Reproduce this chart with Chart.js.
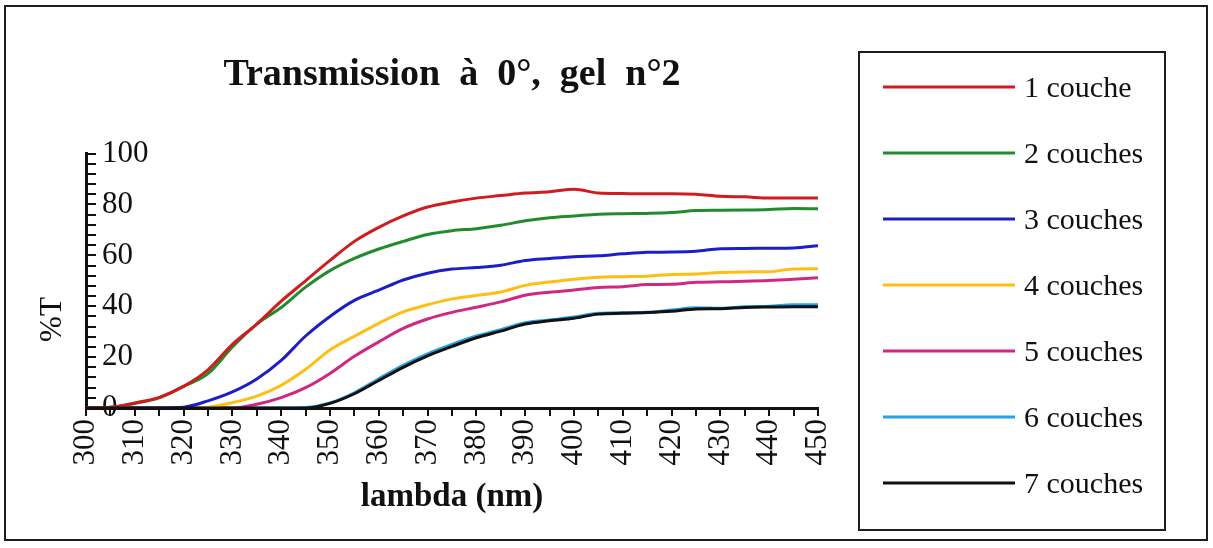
<!DOCTYPE html>
<html>
<head>
<meta charset="utf-8">
<script src="https://cdn.jsdelivr.net/npm/chart.js@4.4.1/dist/chart.umd.min.js"></script>
<style>
  html, body { margin: 0; padding: 0; background: #fff; }
  #wrap { position: relative; width: 1213px; height: 548px; }
</style>
</head>
<body>
<div id="wrap"><canvas id="transChart" width="1213" height="548"></canvas></div>
<script>
// wavelengths (nm) and %T for each number of layers
var lambdas = [300,305,310,315,320,325,330,335,340,345,350,355,360,365,370,375,380,385,390,395,400,405,410,415,420,425,430,435,440,445,450];
var couche1 = [0,0.3,2,4.2,8.5,15,25,33,42,50,58,65.5,71,75.5,79,81,82.5,83.5,84.5,85,86,84.5,84.3,84.2,84.2,84,83.2,83,82.5,82.5,82.5];
var couche2 = [0,0.3,1.8,4,8.5,13.5,24,33,39.5,47.5,54,58.8,62.5,65.5,68.2,69.7,70.5,71.8,73.6,74.8,75.5,76.2,76.4,76.5,76.8,77.6,77.7,77.8,78,78.4,78.3];
var couche3 = [0,0,0,0,0.3,2.8,6.3,11.4,18.7,28.3,36,42.3,46.3,50.3,53,54.6,55.2,56.1,58,58.8,59.5,59.8,60.6,61.2,61.3,61.6,62.6,62.7,62.8,62.9,63.8];
var couche4 = [0,0,0,0,0,0.3,2.1,4.7,8.9,15.2,22.8,28.2,33.3,37.8,40.6,42.9,44.2,45.6,48.2,49.5,50.6,51.4,51.6,51.8,52.5,52.7,53.3,53.5,53.6,54.6,54.7];
var couche5 = [0,0,0,0,0,0,0,1.5,4.1,8,13.6,20.3,26,31.3,35,37.6,39.6,41.7,44.3,45.5,46.4,47.4,47.7,48.5,48.6,49.4,49.6,49.8,50.1,50.6,51.2];
var couche6 = [0,0,0,0,0,0,0,0,0,0.2,2,6,11.5,16.8,21.3,25,28.3,30.8,33.5,34.6,35.8,37.2,37.5,37.6,38.5,39.4,39.2,39.8,40,40.6,40.6];
var couche7 = [0,0,0,0,0,0,0,0,0,0,1.8,5.6,10.8,16,20.5,24.2,27.6,30.2,33,34.3,35.3,36.9,37.2,37.5,38,38.9,39,39.5,39.7,39.8,39.8];

var labels = ["1 couche", "2 couches", "3 couches", "4 couches", "5 couches", "6 couches", "7 couches"];
var series = [couche1, couche2, couche3, couche4, couche5, couche6, couche7];
var colors = ['rgb(208,28,30)', 'rgb(34,140,44)', 'rgb(30,30,200)', 'rgb(255,190,20)',
              'rgb(208,40,130)', 'rgb(40,160,230)', 'rgb(17,17,17)'];
var yTickValues = [0,4,8,12,16,20,24,28,32,36,40,44,48,52,56,60,64,68,72,76,80,84,88,92,96,100];

function toPoints(vals) {
  return vals.map(function (v, i) { return {x: lambdas[i], y: v}; });
}

Chart.defaults.font.family = "'Liberation Serif', 'Times New Roman', serif";
Chart.defaults.color = '#111';

// outer frame + boxed legend on the right
var framePlugin = {
  id: 'frame',
  afterDraw: function (chart) {
    var ctx = chart.ctx;
    ctx.save();
    ctx.strokeStyle = '#1a1f1f';
    ctx.lineWidth = 2;
    ctx.strokeRect(5, 6, 1202, 534);
    ctx.strokeRect(859, 52, 306, 478);
    ctx.font = "30px 'Liberation Serif', serif";
    ctx.textBaseline = 'middle';
    ctx.textAlign = 'left';
    chart.data.datasets.forEach(function (ds, i) {
      var y = 87 + i * 66;
      ctx.strokeStyle = ds.borderColor;
      ctx.lineWidth = 3;
      ctx.beginPath();
      ctx.moveTo(883, y);
      ctx.lineTo(1015, y);
      ctx.stroke();
      ctx.fillStyle = '#111';
      ctx.fillText(ds.label, 1024, y + 2);
    });
    ctx.restore();
  }
};

// minor ticks of the y axis point into the plot
var yTicksPlugin = {
  id: 'yTicksIn',
  afterDatasetsDraw: function (chart) {
    var sc = chart.scales.y;
    var ctx = chart.ctx;
    ctx.save();
    ctx.strokeStyle = '#111';
    ctx.lineWidth = 2;
    sc.ticks.forEach(function (t) {
      var y = Math.round(sc.getPixelForValue(t.value));
      ctx.beginPath();
      ctx.moveTo(sc.right, y);
      ctx.lineTo(sc.right + 10, y);
      ctx.stroke();
    });
    ctx.restore();
  }
};

var ctx = document.getElementById('transChart').getContext('2d');
var chart = new Chart(ctx, {
  type: 'line',
  data: {
    datasets: series.map(function (s, i) {
      return {
        label: labels[i],
        data: toPoints(s),
        borderColor: colors[i],
        backgroundColor: colors[i],
        borderWidth: 3,
        pointRadius: 0,
        cubicInterpolationMode: 'monotone',
        order: i === 6 ? -1 : 0
      };
    })
  },
  options: {
    responsive: false,
    animation: false,
    layout: { padding: { left: 8, top: 6, right: 395, bottom: 6 } },
    plugins: {
      legend: { display: false },
      tooltip: { enabled: false },
      title: {
        display: true,
        fullSize: false,
        text: 'Transmission\u00a0\u00a0à\u00a0\u00a00°,\u00a0\u00a0gel\u00a0\u00a0n°2',
        color: '#111',
        font: { size: 38, weight: 'bold' },
        padding: { top: 46, bottom: 56 }
      }
    },
    scales: {
      x: {
        type: 'linear',
        min: 300,
        max: 450,
        afterFit: function (s) { s.height = 134; },
        border: { display: true, color: '#111', width: 3 },
        grid: { drawOnChartArea: false, drawTicks: true, tickLength: 8, color: '#111', lineWidth: 2 },
        ticks: {
          stepSize: 5,
          maxTicksLimit: 100,
          autoSkip: false,
          minRotation: 90,
          maxRotation: 90,
          padding: 3,
          font: { size: 31 },
          callback: function (v) { return v % 10 === 0 ? String(v) : ''; }
        },
        title: {
          display: true,
          text: 'lambda (nm)',
          font: { size: 33, weight: 'bold' },
          padding: { top: 0, bottom: 25 }
        }
      },
      y: {
        min: 0,
        max: 100,
        afterFit: function (s) { s.width = 78; },
        afterBuildTicks: function (s) {
          s.ticks = yTickValues.map(function (v) { return {value: v}; });
        },
        border: { display: true, color: '#111', width: 3 },
        grid: { drawOnChartArea: false, drawTicks: false },
        ticks: {
          autoSkip: false,
          mirror: true,
          padding: 16,
          font: { size: 31 },
          callback: function (v) { return v % 20 === 0 ? String(v) : ''; }
        },
        title: {
          display: true,
          text: '%T' + '\u00a0'.repeat(10),
          font: { size: 31 },
          padding: { top: 26, bottom: 0 }
        }
      }
    }
  },
  plugins: [framePlugin, yTicksPlugin]
});
</script>
</body>
</html>
